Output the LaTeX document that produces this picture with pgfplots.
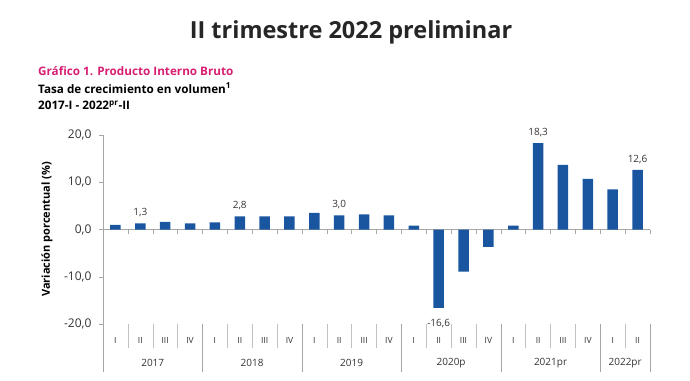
\documentclass[border=0pt]{standalone}
\usepackage{pgfplots}
\pgfplotsset{compat=1.18}
\usepackage{fontspec}
\setmainfont{Open Sans}
\definecolor{barblue}{HTML}{1A56A0}
\definecolor{magent}{HTML}{D81E72}
\definecolor{txt}{HTML}{333333}
\definecolor{axgray}{HTML}{A6A6A6}
\begin{document}
\begin{tikzpicture}
\useasboundingbox (-103pt,-56pt) rectangle (587pt,324pt);
\node[font=\bfseries\fontsize{23.5}{28}\selectfont, text=black!85] at (248pt,292pt) {II trimestre 2022 preliminar};
\node[anchor=west, font=\bfseries\fontsize{11.7}{14}\selectfont, text=magent, inner sep=0] at (-65pt,253pt) {Gráfico 1. Producto Interno Bruto};
\node[anchor=west, font=\bfseries\fontsize{11.7}{14}\selectfont, text=black, inner sep=0] at (-65pt,236pt) {Tasa de crecimiento en volumen\textsuperscript{1}};
\node[anchor=west, font=\bfseries\fontsize{11.7}{14}\selectfont, text=black, inner sep=0] at (-65pt,219pt) {2017-I - 2022\textsuperscript{pr}-II};
\begin{axis}[
  at={(0pt,0pt)}, anchor=south west, scale only axis,
  width=547pt, height=189pt,
  xmin=0, xmax=22, ymin=-20, ymax=20, clip=false,
  axis x line=bottom, axis y line=left,
  axis line style={-, draw=axgray},
  x axis line style={draw=none},
  xtick={0.5,1.5,...,21.5},
  xticklabels={I,II,III,IV,I,II,III,IV,I,II,III,IV,I,II,III,IV,I,II,III,IV,I,II},
  major x tick style={draw=none},
  xticklabel style={yshift=-6pt, font=\fontsize{8.5}{10}\selectfont, text=txt},
  ytick={-20,-10,0,10,20},
  tick align=outside, major tick length=4pt,
  y tick style={draw=axgray},
  yticklabel style={xshift=-4pt, font=\fontsize{12}{14}\selectfont, text=txt},
  /pgf/number format/.cd, assume math mode=true, use comma, fixed, fixed zerofill, precision=1,
  /pgfplots/.cd,
  ylabel={Variación porcentual (\%)},
  y label style={at={(axis description cs:0,0.5)}, yshift=56pt, anchor=center, font=\bfseries\fontsize{11}{13}\selectfont},
]
\draw[axgray] (axis cs:0,0) -- (axis cs:22,0);
\pgfplotsinvokeforeach{1,...,22}{\draw[axgray] (axis cs:#1,0) -- ++(0pt,-4pt);}
\pgfplotsinvokeforeach{1,2,3,5,6,7,9,10,11,13,14,15,17,18,19,21}{\draw[axgray!70] (axis cs:#1,-20) -- ++(0pt,-24pt);}
\pgfplotsinvokeforeach{4,8,12,16,20,22}{\draw[axgray] (axis cs:#1,-20) -- ++(0pt,-48pt);}
\draw[axgray] (axis cs:0,-20) -- ++(0pt,-48pt);
\addplot[ybar, bar width=10.5pt, fill=barblue, draw=none] coordinates {
 (0.5,1.0) (1.5,1.3) (2.5,1.6) (3.5,1.3)
 (4.5,1.5) (5.5,2.8) (6.5,2.8) (7.5,2.8)
 (8.5,3.5) (9.5,3.0) (10.5,3.2) (11.5,3.0)
 (12.5,0.8) (13.5,-16.6) (14.5,-8.9) (15.5,-3.7)
 (16.5,0.8) (17.5,18.3) (18.5,13.7) (19.5,10.7)
 (20.5,8.5) (21.5,12.6)};
\addplot[draw=none, mark=none, nodes near coords, point meta=explicit symbolic,
  nodes near coords style={font=\fontsize{10}{12}\selectfont, text=txt, anchor=south, yshift=3pt}]
  coordinates {(1.5,1.3) [1,3] (5.5,2.8) [2,8] (9.5,3.0) [3,0] (17.5,18.3) [18,3] (21.5,12.6) [12,6]};
\addplot[draw=none, mark=none, nodes near coords, point meta=explicit symbolic,
  nodes near coords style={font=\fontsize{10}{12}\selectfont, text=txt, anchor=north, yshift=-8pt}]
  coordinates {(13.5,-16.6) [-16,6]};
\node[text=txt, font=\fontsize{10}{12}\selectfont] at ([yshift=-39pt]axis cs:2,-20) {2017};
\node[text=txt, font=\fontsize{10}{12}\selectfont] at ([yshift=-39pt]axis cs:6,-20) {2018};
\node[text=txt, font=\fontsize{10}{12}\selectfont] at ([yshift=-39pt]axis cs:10,-20) {2019};
\node[text=txt, font=\fontsize{10}{12}\selectfont] at ([yshift=-39pt]axis cs:14,-20) {2020p};
\node[text=txt, font=\fontsize{10}{12}\selectfont] at ([yshift=-39pt]axis cs:18,-20) {2021pr};
\node[text=txt, font=\fontsize{10}{12}\selectfont] at ([yshift=-39pt]axis cs:21,-20) {2022pr};
\end{axis}
\end{tikzpicture}
\end{document}
